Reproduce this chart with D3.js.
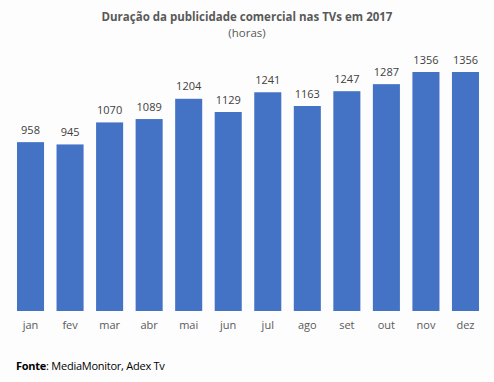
<!DOCTYPE html>
<html><head><meta charset="utf-8">
<script src="https://cdn.jsdelivr.net/npm/d3@7"></script>
<style>
html,body{margin:0;padding:0;background:#fdfdfd;}
svg{display:block;}
text{font-family:"Open Sans",sans-serif;}
</style></head>
<body>
<script>
const months = ["jan","fev","mar","abr","mai","jun","jul","ago","set","out","nov","dez"];
const values = [958,945,1070,1089,1204,1129,1241,1163,1247,1287,1356,1356];
const titleText = "Duração da publicidade comercial nas TVs em 2017";
const subtitleText = "(horas)";

const W = 494, H = 382;
const svg = d3.select("body").append("svg").attr("width", W).attr("height", H);
svg.append("rect").attr("width", W).attr("height", H).attr("fill", "#fdfdfd");

const x = d3.scaleBand().domain(months).range([10.75, 485.25]).paddingInner(0.316).paddingOuter(0.158);
const y = d3.scaleLinear().domain([0, 1356]).range([311, 72]);

svg.append("text").attr("x", 247).attr("y", 21).attr("text-anchor", "middle")
  .attr("font-size", 11.5).attr("font-weight", "bold").attr("fill", "#595959").text(titleText);
svg.append("text").attr("x", 247).attr("y", 37).attr("text-anchor", "middle")
  .attr("font-size", 11.5).attr("fill", "#595959").text(subtitleText);

svg.selectAll("rect.bar").data(values).enter().append("rect").attr("class", "bar")
  .attr("x", (d, i) => x(months[i])).attr("width", x.bandwidth())
  .attr("y", d => y(d)).attr("height", d => y(0) - y(d)).attr("fill", "#4472C4");

svg.selectAll("text.val").data(values).enter().append("text").attr("class", "val")
  .attr("x", (d, i) => x(months[i]) + x.bandwidth() / 2).attr("y", d => y(d) - 8.5)
  .attr("text-anchor", "middle").attr("font-size", 11).attr("fill", "#404040").text(d => d);

const ax = svg.append("g").attr("transform", "translate(0,311)")
  .call(d3.axisBottom(x).tickSize(0).tickPadding(10));
ax.select(".domain").remove();
ax.selectAll("text").attr("font-size", 11).attr("fill", "#595959").attr("font-family", "Open Sans, sans-serif");

const foot = svg.append("text").attr("x", 16).attr("y", 370).attr("font-size", 11)
  .attr("letter-spacing", -0.25).attr("fill", "#000");
foot.append("tspan").attr("font-weight", "bold").text("Fonte");
foot.append("tspan").text(": MediaMonitor, Adex Tv");
</script>
</body></html>
